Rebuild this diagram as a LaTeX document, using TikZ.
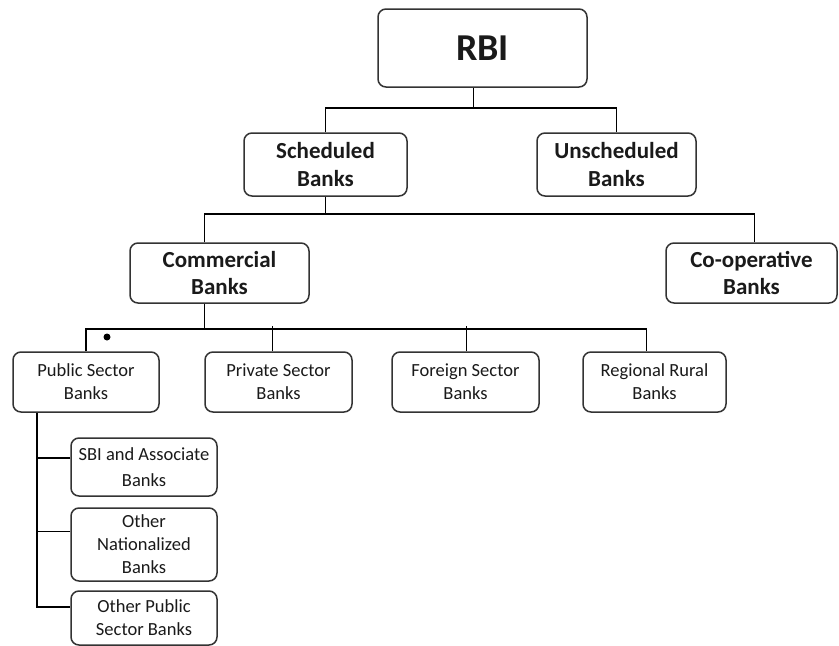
\documentclass[tikz,border=0pt]{standalone}
\definecolor{boxLine}{HTML}{333333}
\definecolor{textMain}{HTML}{1A1A1A}
\usepackage{fontspec}
\setmainfont{Carlito}
\usepackage{tikz}
\usetikzlibrary{calc, positioning}

\tikzset{
  bankbox/.style={draw=boxLine, line width=1.5pt, rounded corners=8pt, align=center,
                  inner sep=0pt, text=textMain, fill=white},
  toplevel/.style={bankbox, font=\fontsize{38}{42}\selectfont\bfseries},
  midlevel/.style={bankbox, font=\fontsize{23}{27.5}\selectfont\bfseries},
  lowlevel/.style={bankbox, font=\fontsize{18.5}{23}\selectfont},
  link/.style={draw=black, line width=1.5pt},
  dotmark/.style={circle, fill=black, inner sep=0pt, minimum size=7pt}
}

\begin{document}
\begin{tikzpicture}[x=1pt, y=-1pt]
        \useasboundingbox (0,0) rectangle (839,646);
        \fill[white] (0,0) rectangle (839,646);

        % top
        \node[toplevel, minimum width=209pt, minimum height=78pt] (rbi) at (482.5,48) {RBI};
        \node[midlevel, minimum width=163pt, minimum height=63pt] (sched) at (325.5,164.5) {Scheduled\\Banks};
        \node[midlevel, minimum width=159pt, minimum height=63pt] (unsched) at (616.5,164.5) {Unscheduled\\Banks};

        % second level
        \node[midlevel, minimum width=179pt, minimum height=60pt] (comm) at (219.5,273) {Commercial\\Banks};
        \node[midlevel, minimum width=171pt, minimum height=60pt] (coop) at (751.5,273) {Co-operative\\Banks};

        % commercial banks
        \node[lowlevel, minimum width=146pt, minimum height=60pt] (pub) at (86,382) {Public Sector\\Banks};
        \node[lowlevel, minimum width=147pt, minimum height=60pt] (priv) at (278.5,382) {Private Sector\\Banks};
        \node[lowlevel, minimum width=147pt, minimum height=60pt] (forgn) at (465.5,382) {Foreign Sector\\Banks};
        \node[lowlevel, minimum width=143pt, minimum height=60pt] (rrb) at (654.5,382) {Regional Rural\\Banks};
        \node[dotmark] (mark) at (107,337) {};

        % public sector banks
        \node[lowlevel, minimum width=146pt, minimum height=58pt] (sbi) at (144,467) {SBI and Associate\\[3pt]Banks};
        \node[lowlevel, minimum width=146pt, minimum height=73pt] (othnat) at (144,544.5) {Other\\Nationalized\\Banks};
        \node[lowlevel, minimum width=146pt, minimum height=54pt] (othpub) at (144,618) {Other Public\\Sector Banks};

        % connectors
        \draw[link] ([xshift=-9pt]rbi.south) -- ++(0,20) coordinate (r1);
        \draw[link] (sched.north) |- (r1) -| (unsched.north);
        \draw[link] (sched.south) -- ++(0,17) coordinate (s1);
        \draw[link] ([xshift=-15pt]comm.north) |- (s1) -| ([xshift=3pt]coop.north);
        \draw[link] ([xshift=-15pt]comm.south) -- ++(0,25) coordinate (c1);
        \draw[link] (pub.north) |- (c1) -| ([xshift=-8pt]rrb.north);
        \draw[link] ([xshift=-6pt]priv.north) -- ++(0,-25);
        \draw[link] ([xshift=1pt]forgn.north) -- ++(0,-25);
        \draw[link] ([xshift=-49pt]pub.south) |- ([yshift=11pt]othpub.west);
        \draw[link] ([yshift=9pt]sbi.west) -- ++(-34,0);
        \draw[link] ([yshift=13pt]othnat.west) -- ++(-34,0);
\end{tikzpicture}
\end{document}
